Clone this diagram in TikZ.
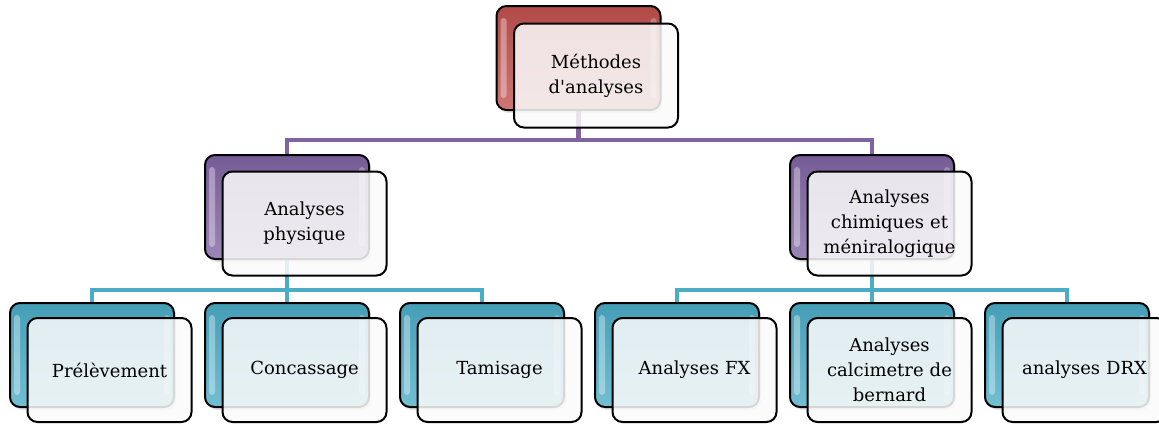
\documentclass[tikz,border=0pt]{standalone}
\usepackage{fontspec}
\setmainfont{DejaVu Serif}[Ligatures=TeXOff]
\usetikzlibrary{shadows,backgrounds}
\definecolor{cred}{RGB}{192,80,77}
\definecolor{cpurple}{RGB}{128,100,162}
\definecolor{ccyan}{RGB}{75,172,198}
\tikzset{
  backbox/.style={draw=black, line width=2pt, rounded corners=10pt,
    minimum width=164pt, minimum height=104pt, inner sep=0pt,
    top color=#1!92!black, bottom color=#1!78!white,
    drop shadow={opacity=0.22, shadow xshift=2pt, shadow yshift=-3pt},
    path picture={
      \fill[white,opacity=0.35,rounded corners=3pt]
        ([xshift=4pt,yshift=-12pt]path picture bounding box.north west)
        rectangle ([xshift=10pt,yshift=12pt]path picture bounding box.south west);
      \fill[white,opacity=0.25,rounded corners=3pt]
        ([xshift=-4pt,yshift=-12pt]path picture bounding box.north east)
        rectangle ([xshift=-10pt,yshift=12pt]path picture bounding box.south east);
    }},
  frontbox/.style={draw=black, line width=2pt, rounded corners=10pt,
    minimum width=164pt, minimum height=104pt, inner sep=2pt,
    fill=gray!4, fill opacity=0.86, text opacity=1, align=center,
    font=\fontsize{18}{25}\selectfont, text width=158pt},
  conn/.style={line width=4.5pt, draw=#1},
}
\begin{document}
\begin{tikzpicture}[x=1pt,y=1pt]
\useasboundingbox (0,0) rectangle (1159,-423);
% level 1
\node[backbox=cred] (b0) at (578.5,-58) {};
\node[frontbox] (f0) at (596,-75.5) {Méthodes\\d'analyses};
% level 2
\node[backbox=cpurple] (b1) at (287,-207) {};
\node[frontbox] (f1) at (304.5,-223.5) {Analyses\\physique};
\node[backbox=cpurple] (b2) at (872,-207) {};
\node[frontbox] (f2) at (889.5,-223.5) {Analyses\\chimiques et\\méniralogique};
% level 3
\foreach \i/\x/\t in {1/92/Prélèvement,2/287/Concassage,3/482/Tamisage,4/677/Analyses FX,5/872/{Analyses\\calcimetre de\\bernard},6/1067/analyses DRX}{
  \node[backbox=ccyan] (c\i) at (\x,-355) {};
  \node[frontbox] (g\i) at (\x+17.5,-370) {\t};
}
\coordinate (h1) at (0,-140);
\coordinate (h2) at (0,-290);
\begin{scope}[on background layer]
  \draw[conn=cpurple] (b0.center) -- (h1 -| b0.center);
  \draw[conn=cpurple] (b1.center) |- (h1 -| b0.center) -| (b2.center);
  \draw[conn=ccyan] (b1.center) -- (h2 -| b1.center);
  \draw[conn=ccyan] (c1.center) |- (h2 -| b1.center) -| (c3.center);
  \draw[conn=ccyan] (c2.center) -- (h2 -| c2.center);
  \draw[conn=ccyan] (b2.center) -- (h2 -| b2.center);
  \draw[conn=ccyan] (c4.center) |- (h2 -| b2.center) -| (c6.center);
  \draw[conn=ccyan] (c5.center) -- (h2 -| c5.center);
\end{scope}
\end{tikzpicture}
\end{document}
